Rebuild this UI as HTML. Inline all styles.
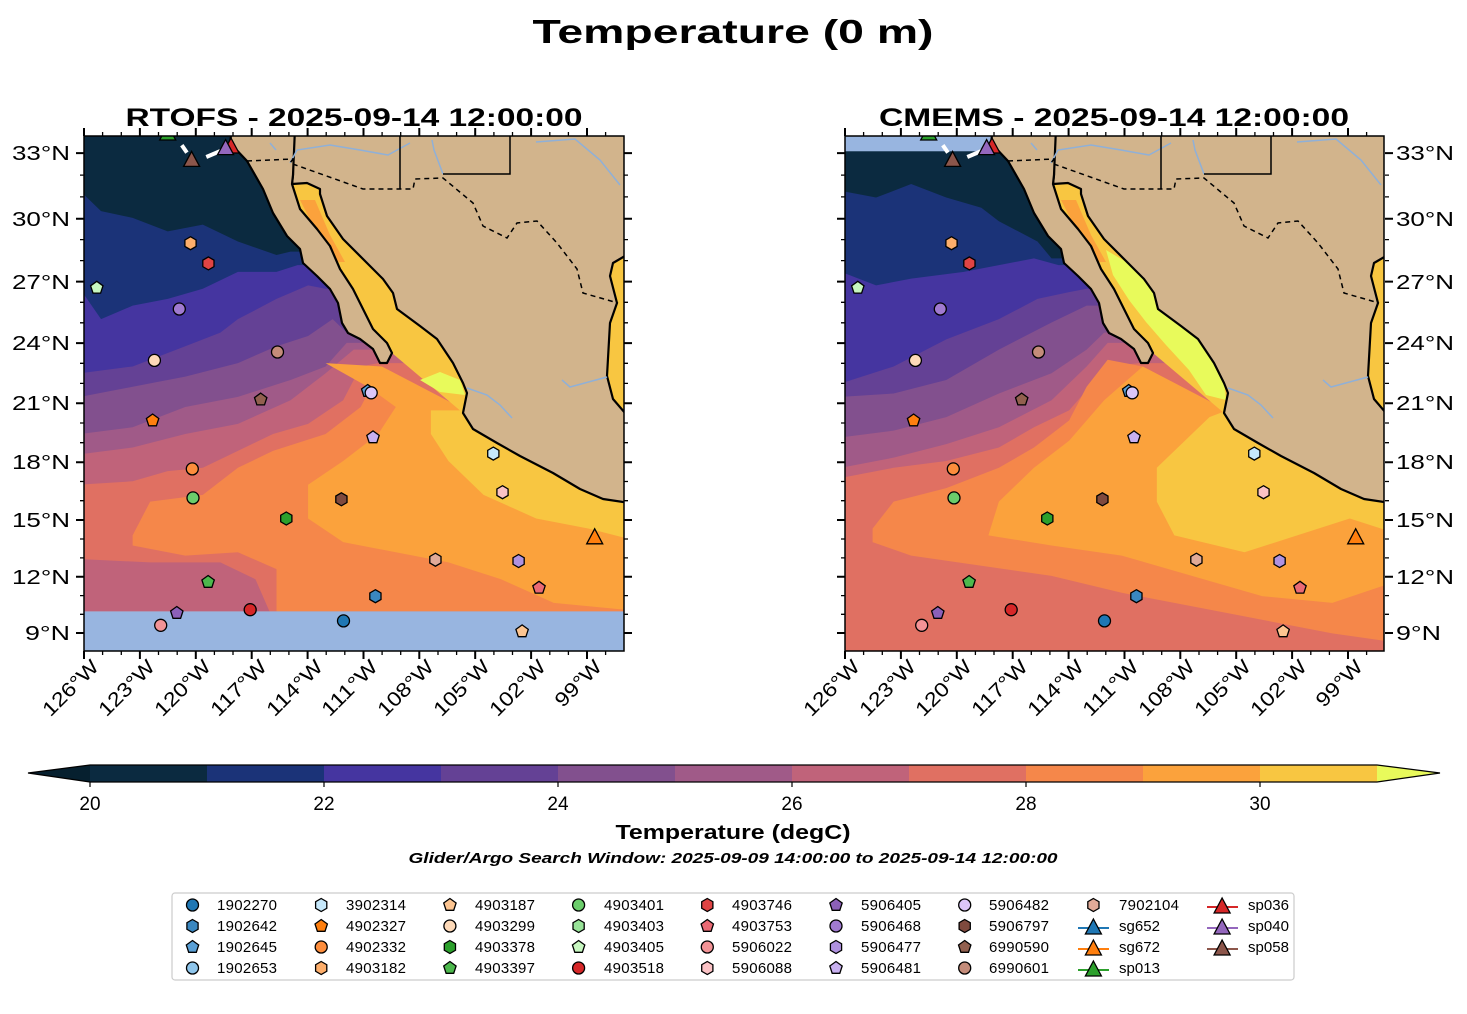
<!DOCTYPE html>
<html><head><meta charset="utf-8"><style>
html,body{margin:0;padding:0;background:#fff;}
svg{display:block;font-family:"Liberation Sans","DejaVu Sans",sans-serif;}
</style></head><body>
<svg width="1467" height="1014" viewBox="0 0 1467 1014" xmlns="http://www.w3.org/2000/svg">
<defs>
<clipPath id="cl"><rect x="84" y="136" width="540" height="515"/></clipPath>
<clipPath id="cr"><rect x="845" y="136" width="539" height="515"/></clipPath>
<circle id="mc" r="6" stroke="#000" stroke-width="1.3"/>
<polygon id="mh" points="0,-6.5 5.6,-3.25 5.6,3.25 0,6.5 -5.6,3.25 -5.6,-3.25" stroke="#000" stroke-width="1.3"/>
<polygon id="mp" points="0,-6.5 6.2,-2 3.8,5.3 -3.8,5.3 -6.2,-2" stroke="#000" stroke-width="1.3"/>
<polygon id="mt" points="0,-9 8,6 -8,6" stroke="#000" stroke-width="1.3"/>
<g id="land">
<polygon fill="#f8c641" points="630,256 625,256 613,263 610,276 617,303 610,323 607,376 613,399 625,413 630,413"/>
<polygon fill="#d2b48c" stroke="#000" stroke-width="2.2" stroke-linejoin="round" points="292,184 307,183 320,189 320,194 327,216 343,239 367,263 383,279 393,293 397,309 420,326 437,339 453,363 463,383 467,393 463,413 473,429 497,443 520,456 553,473 580,489 603,499 630,503 630,413 625,413 613,399 607,376 610,323 617,303 610,276 613,263 625,256 630,256 630,128 293,128 293,175"/>
<polygon fill="#d2b48c" stroke="#000" stroke-width="2.2" stroke-linejoin="round" points="232,128 230,143 247,161 263,189 273,213 287,236 300,249 303,263 317,276 330,289 338,303 342,323 348,333 360,339 373,349 380,363 387,363 392,353 387,343 373,329 363,309 353,289 340,269 330,246 317,229 300,209 292,184 293,175 295,128"/>
<g fill="none" stroke="#8fb0d8" stroke-width="1.5">
<polyline points="290,163 297,150 330,145 360,150 388,155 410,143"/>
<polyline points="432,140 434,150 443,174"/>
<polyline points="536,142 575,139 600,160 620,185"/>
<polyline points="467,388 487,395 500,405 512,418"/>
<polyline points="562,380 570,387 607,377"/>
<polyline points="270,143 276,150"/>
</g>
<polyline fill="none" stroke="#000" stroke-width="1.5" stroke-dasharray="5,4" points="247,161 293,159 290,163 363,189 413,189 415,179 443,178 473,203 483,226 507,238 517,223 537,221 557,243 577,269 583,293 618,303"/>
<polyline fill="none" stroke="#000" stroke-width="1.5" points="400,130 400,189"/>
<polyline fill="none" stroke="#000" stroke-width="1.5" points="443,174 510,174 510,130"/>
</g>
<g id="marks">
<use href="#mh" x="190.5" y="243.2" fill="#fdae6b"/>
<use href="#mh" x="208.4" y="263.4" fill="#e04444"/>
<use href="#mp" x="96.8" y="287.8" fill="#c7f7c0"/>
<use href="#mc" x="179.3" y="309" fill="#a07ad0"/>
<use href="#mc" x="154.4" y="360.4" fill="#fdd9b8"/>
<use href="#mc" x="277.5" y="352" fill="#c48c7a"/>
<use href="#mp" x="260.7" y="399.6" fill="#92604f"/>
<use href="#mp" x="152.6" y="420.5" fill="#ff7f0e"/>
<use href="#mp" x="367.7" y="391" fill="#5aa0d6"/>
<use href="#mc" x="371.2" y="392.8" fill="#dcc6f8"/>
<use href="#mp" x="373" y="437.4" fill="#c8b0f0"/>
<use href="#mh" x="493.3" y="453.6" fill="#c6e8fb"/>
<use href="#mc" x="192.3" y="468.9" fill="#fd8d3c"/>
<use href="#mc" x="193" y="497.9" fill="#6bcd6b"/>
<use href="#mh" x="341.4" y="499.3" fill="#7f4a3e"/>
<use href="#mh" x="286.3" y="518.5" fill="#2ca02c"/>
<use href="#mh" x="502.5" y="492.2" fill="#fbc2c5"/>
<use href="#mt" x="594.7" y="537.8" fill="#ff7f0e"/>
<use href="#mh" x="435.4" y="559.7" fill="#e1aa98"/>
<use href="#mh" x="518.6" y="561" fill="#b092e0"/>
<use href="#mp" x="539" y="587.8" fill="#ea6a74"/>
<use href="#mp" x="208.1" y="582" fill="#4db84d"/>
<use href="#mh" x="375.4" y="596.2" fill="#3a87c0"/>
<use href="#mc" x="250.2" y="609.7" fill="#d62728"/>
<use href="#mp" x="176.8" y="613" fill="#8c60b8"/>
<use href="#mc" x="160.7" y="625.3" fill="#f39396"/>
<use href="#mc" x="343.5" y="620.9" fill="#1f77b4"/>
<use href="#mp" x="522.1" y="631.4" fill="#fdc591"/>
<line x1="181.8" y1="145.2" x2="188.8" y2="155.3" stroke="#fff" stroke-width="4" stroke-dasharray="9,5"/>
<line x1="206.3" y1="157" x2="220.4" y2="151" stroke="#fff" stroke-width="4"/>
<use href="#mt" x="167.7" y="134" fill="#2ca02c"/>
<use href="#mt" x="231" y="147" fill="#d62728"/>
<use href="#mt" x="225.6" y="148.6" fill="#9467bd"/>
<use href="#mt" x="191.6" y="160.4" fill="#8c564b"/>
</g>
</defs>

<!-- Titles -->
<text x="733" y="43" text-anchor="middle" font-weight="bold" font-size="33" textLength="401" lengthAdjust="spacingAndGlyphs">Temperature (0 m)</text>
<text x="354" y="126" text-anchor="middle" font-weight="bold" font-size="25" textLength="457" lengthAdjust="spacingAndGlyphs">RTOFS - 2025-09-14 12:00:00</text>
<text x="1114" y="126" text-anchor="middle" font-weight="bold" font-size="25" textLength="470" lengthAdjust="spacingAndGlyphs">CMEMS - 2025-09-14 12:00:00</text>

<!-- LEFT MAP -->
<g clip-path="url(#cl)">
<g transform="translate(80,130) scale(0.3509,0.3378)">
<rect x="-20" y="-20" width="1650" height="1650" fill="#0b2a40"/>
<polygon fill="#1b3378" points="0,180 60,240 150,260 250,300 350,280 450,330 560,370 600,360 1600,360 1600,1600 0,1600"/>
<polygon fill="#4535a0" points="0,470 60,560 150,520 250,500 350,470 450,420 560,420 620,400 1600,400 1600,1600 0,1600"/>
<polygon fill="#644195" points="0,720 150,700 300,640 400,600 450,560 560,500 650,460 700,470 1600,470 1600,1600 0,1600"/>
<polygon fill="#82508e" points="0,790 150,760 300,730 450,690 560,640 650,610 720,560 760,600 1600,600 1600,1600 0,1600"/>
<polygon fill="#a05a88" points="0,900 150,880 300,820 450,790 600,740 700,700 760,630 1600,630 1600,1600 0,1600"/>
<polygon fill="#c0637a" points="0,960 150,940 300,900 450,870 600,800 700,720 780,650 1600,650 1600,1600 0,1600"/>
<polygon fill="#e07062" points="0,1050 150,1040 250,1010 350,1000 450,950 550,900 650,870 750,800 800,700 850,690 1600,690 1600,1600 0,1600"/>
<polygon fill="#f5874a" points="150,1200 200,1100 350,1080 450,1000 550,950 700,900 800,820 860,700 1100,830 1600,1100 1600,1425 560,1425 560,1300 450,1250 300,1260 150,1230"/>
<polygon fill="#c0637a" points="0,1270 200,1280 400,1280 500,1330 540,1425 0,1425"/>
<polygon fill="#fba23c" points="700,690 860,700 1100,830 1600,1100 1600,1425 1350,1400 1200,1330 1050,1280 900,1250 750,1220 650,1150 650,1050 750,980 850,900 900,820 820,760"/>
<polygon fill="#f8c641" points="1000,830 1100,830 1300,990 1600,1100 1600,1220 1450,1180 1300,1150 1150,1080 1050,980 1000,900"/>
<rect x="-20" y="1425" width="1650" height="200" fill="#98b5e0"/>
</g>
<polygon fill="#f8c641" points="292,184 307,183 320,189 320,194 327,216 343,239 367,263 383,279 393,293 397,309 420,326 437,339 453,363 463,383 467,393 463,413 392,353 387,343 373,329 363,309 353,289 340,269 330,246 317,229 300,209"/>
<polygon fill="#fba23c" points="300,200 315,200 330,235 345,262 335,262 318,235"/>
<polygon fill="#e8fa5b" points="420,380 440,372 460,380 465,395 440,392"/>
<use href="#land"/>
</g>
<g clip-path="url(#cl)"><use href="#marks"/></g>

<!-- RIGHT MAP -->
<g clip-path="url(#cr)">
<g transform="translate(841,130) scale(0.3509,0.3378)">
<rect x="-20" y="-20" width="1650" height="1650" fill="#0b2a40"/>
<polygon fill="#1b3378" points="0,180 100,200 200,160 300,200 400,230 450,270 560,330 600,380 1600,380 1600,1600 0,1600"/>
<polygon fill="#4535a0" points="0,420 100,460 200,440 350,420 450,400 550,380 620,400 1600,400 1600,1600 0,1600"/>
<polygon fill="#644195" points="0,750 150,700 300,620 450,560 560,500 650,480 700,470 1600,470 1600,1600 0,1600"/>
<polygon fill="#82508e" points="0,790 150,780 300,740 450,650 600,570 700,520 1600,520 1600,1600 0,1600"/>
<polygon fill="#a05a88" points="0,910 150,890 300,850 450,780 600,720 700,650 750,600 1600,600 1600,1600 0,1600"/>
<polygon fill="#c0637a" points="0,1000 150,970 300,930 450,880 600,800 700,700 760,630 1600,630 1600,1600 0,1600"/>
<polygon fill="#e07062" points="0,1030 150,1000 300,980 450,940 550,880 650,830 760,700 850,690 1600,690 1600,1600 0,1600"/>
<polygon fill="#f5874a" points="90,1180 150,1100 300,1060 450,1000 550,940 650,860 700,760 760,680 860,700 1100,830 1600,1100 1600,1520 1400,1490 1200,1450 1000,1410 800,1370 600,1320 400,1290 200,1260 90,1220"/>
<polygon fill="#fba23c" points="420,1200 450,1100 550,1000 650,920 750,800 860,700 1100,830 1600,1100 1600,1330 1400,1400 1200,1380 1000,1320 800,1260 600,1230"/>
<polygon fill="#f8c641" points="900,1000 1000,900 1050,850 1100,830 1300,990 1600,1100 1600,1200 1450,1150 1300,1200 1150,1250 950,1200 900,1100"/>
<rect x="-20" y="-20" width="465" height="83" fill="#98b5e0"/>
</g>
<g transform="translate(761,0)">
<polygon fill="#f8c641" points="292,184 307,183 320,189 320,194 327,216 343,239 367,263 383,279 393,293 397,309 420,326 437,339 453,363 463,383 467,393 463,413 392,353 387,343 373,329 363,309 353,289 340,269 330,246 317,229 300,209"/>
<polygon fill="#fba23c" points="300,200 315,200 330,235 345,262 335,262 318,235"/>
<polygon fill="#e8fa5b" points="345,250 367,263 383,279 393,293 397,309 420,326 437,339 453,363 463,383 465,400 445,395 428,370 405,345 385,322 368,300 352,275"/>
<use href="#land"/>
</g>
</g>
<g clip-path="url(#cr)"><use href="#marks" x="761"/></g>

<!-- frames -->
<rect x="84" y="136" width="540" height="515" fill="none" stroke="#000" stroke-width="1.5"/>
<rect x="845" y="136" width="539" height="515" fill="none" stroke="#000" stroke-width="1.5"/>

<!-- x ticks -->
<g id="xt" stroke="#000">
<path stroke-width="2" d="M84,651v8M139.9,651v8M195.8,651v8M251.7,651v8M307.6,651v8M363.5,651v8M419.3,651v8M475.2,651v8M531.1,651v8M587,651v8M84,136v-8M139.9,136v-8M195.8,136v-8M251.7,136v-8M307.6,136v-8M363.5,136v-8M419.3,136v-8M475.2,136v-8M531.1,136v-8M587,136v-8"/>
<path stroke-width="1.3" d="M102.6,651v4M121.3,651v4M158.5,651v4M177.2,651v4M214.4,651v4M233,651v4M270.3,651v4M288.9,651v4M326.2,651v4M344.8,651v4M382.1,651v4M400.7,651v4M438,651v4M456.6,651v4M493.9,651v4M512.5,651v4M549.8,651v4M568.4,651v4M605.6,651v4M102.6,136v-4M121.3,136v-4M158.5,136v-4M177.2,136v-4M214.4,136v-4M233,136v-4M270.3,136v-4M288.9,136v-4M326.2,136v-4M344.8,136v-4M382.1,136v-4M400.7,136v-4M438,136v-4M456.6,136v-4M493.9,136v-4M512.5,136v-4M549.8,136v-4M568.4,136v-4M605.6,136v-4"/>
</g>
<use href="#xt" x="761"/>
<!-- y ticks -->
<g id="yt" stroke="#000">
<path stroke-width="2" d="M84,633h-8M84,576.8h-8M84,520h-8M84,462.2h-8M84,403.3h-8M84,343.1h-8M84,281.6h-8M84,218.8h-8M84,153.1h-8M624,633h8M624,576.8h8M624,520h8M624,462.2h8M624,403.3h8M624,343.1h8M624,281.6h8M624,218.8h8M624,153.1h8"/>
<path stroke-width="1.3" d="M84,614.3h-4M84,595.6h-4M84,557.9h-4M84,539h-4M84,500.7h-4M84,481.5h-4M84,442.7h-4M84,423h-4M84,383.4h-4M84,363.3h-4M84,322.8h-4M84,302.3h-4M84,260.6h-4M84,239.6h-4M84,196.9h-4M84,175.1h-4M624,614.3h4M624,595.6h4M624,557.9h4M624,539h4M624,500.7h4M624,481.5h4M624,442.7h4M624,423h4M624,383.4h4M624,363.3h4M624,322.8h4M624,302.3h4M624,260.6h4M624,239.6h4M624,196.9h4M624,175.1h4"/>
</g>
<use href="#yt" x="761"/>

<!-- y labels -->
<g font-size="20" text-anchor="end">
<text x="70" y="160" textLength="58" lengthAdjust="spacingAndGlyphs">33°N</text><text x="70" y="226" textLength="58" lengthAdjust="spacingAndGlyphs">30°N</text><text x="70" y="289" textLength="58" lengthAdjust="spacingAndGlyphs">27°N</text><text x="70" y="350" textLength="58" lengthAdjust="spacingAndGlyphs">24°N</text><text x="70" y="410" textLength="58" lengthAdjust="spacingAndGlyphs">21°N</text><text x="70" y="469" textLength="58" lengthAdjust="spacingAndGlyphs">18°N</text><text x="70" y="527" textLength="58" lengthAdjust="spacingAndGlyphs">15°N</text><text x="70" y="584" textLength="58" lengthAdjust="spacingAndGlyphs">12°N</text><text x="70" y="640" textLength="45" lengthAdjust="spacingAndGlyphs">9°N</text>
</g>
<g font-size="20" text-anchor="start">
<text x="1396" y="160" textLength="58" lengthAdjust="spacingAndGlyphs">33°N</text><text x="1396" y="226" textLength="58" lengthAdjust="spacingAndGlyphs">30°N</text><text x="1396" y="289" textLength="58" lengthAdjust="spacingAndGlyphs">27°N</text><text x="1396" y="350" textLength="58" lengthAdjust="spacingAndGlyphs">24°N</text><text x="1396" y="410" textLength="58" lengthAdjust="spacingAndGlyphs">21°N</text><text x="1396" y="469" textLength="58" lengthAdjust="spacingAndGlyphs">18°N</text><text x="1396" y="527" textLength="58" lengthAdjust="spacingAndGlyphs">15°N</text><text x="1396" y="584" textLength="58" lengthAdjust="spacingAndGlyphs">12°N</text><text x="1396" y="640" textLength="45" lengthAdjust="spacingAndGlyphs">9°N</text>
</g>
<!-- x labels -->
<g id="xl" font-size="20" text-anchor="end">
<text transform="translate(100,668) rotate(-45)" textLength="70" lengthAdjust="spacingAndGlyphs">126°W</text>
<text transform="translate(156,668) rotate(-45)" textLength="70" lengthAdjust="spacingAndGlyphs">123°W</text>
<text transform="translate(212,668) rotate(-45)" textLength="70" lengthAdjust="spacingAndGlyphs">120°W</text>
<text transform="translate(268,668) rotate(-45)" textLength="70" lengthAdjust="spacingAndGlyphs">117°W</text>
<text transform="translate(324,668) rotate(-45)" textLength="70" lengthAdjust="spacingAndGlyphs">114°W</text>
<text transform="translate(379,668) rotate(-45)" textLength="70" lengthAdjust="spacingAndGlyphs">111°W</text>
<text transform="translate(435,668) rotate(-45)" textLength="70" lengthAdjust="spacingAndGlyphs">108°W</text>
<text transform="translate(491,668) rotate(-45)" textLength="70" lengthAdjust="spacingAndGlyphs">105°W</text>
<text transform="translate(547,668) rotate(-45)" textLength="70" lengthAdjust="spacingAndGlyphs">102°W</text>
<text transform="translate(603,668) rotate(-45)" textLength="57" lengthAdjust="spacingAndGlyphs">99°W</text>
</g>
<use href="#xl" x="761"/>

<!-- colorbar -->
<g stroke="none">
<polygon points="28,773 90,765 90,782" fill="#06202f"/>
<rect x="90" y="765" width="117.1" height="17" fill="#0b2a40"/>
<rect x="207" y="765" width="117.1" height="17" fill="#1b3378"/>
<rect x="324" y="765" width="117.1" height="17" fill="#4535a0"/>
<rect x="441" y="765" width="117.1" height="17" fill="#644195"/>
<rect x="558" y="765" width="117.1" height="17" fill="#82508e"/>
<rect x="675" y="765" width="117.1" height="17" fill="#a05a88"/>
<rect x="792" y="765" width="117.1" height="17" fill="#c0637a"/>
<rect x="909" y="765" width="117.1" height="17" fill="#e07062"/>
<rect x="1026" y="765" width="117.1" height="17" fill="#f5874a"/>
<rect x="1143" y="765" width="117.1" height="17" fill="#fba23c"/>
<rect x="1260" y="765" width="117" height="17" fill="#f8c641"/>
<polygon points="1377,765 1440,773 1377,782" fill="#e8fa5b"/>
</g>
<polygon points="28,773 90,765 1377,765 1440,773 1377,782 90,782" fill="none" stroke="#000" stroke-width="1.2"/>
<g stroke="#000" stroke-width="1.2"><path d="M90,782v5M324,782v5M558,782v5M792,782v5M1026,782v5M1260,782v5"/></g>
<g font-size="19" text-anchor="middle">
<text x="90" y="810">20</text><text x="324" y="810">22</text><text x="558" y="810">24</text><text x="792" y="810">26</text><text x="1026" y="810">28</text><text x="1260" y="810">30</text>
</g>
<text x="733" y="839" text-anchor="middle" font-weight="bold" font-size="20" textLength="235" lengthAdjust="spacingAndGlyphs">Temperature (degC)</text>
<text x="733" y="863" text-anchor="middle" font-weight="bold" font-style="italic" font-size="15" textLength="649" lengthAdjust="spacingAndGlyphs">Glider/Argo Search Window: 2025-09-09 14:00:00 to 2025-09-14 12:00:00</text>

<!-- legend -->
<rect x="172" y="893" width="1122" height="87" rx="3" fill="#fff" stroke="#cccccc" stroke-width="1.2"/>
<g font-size="15">
<use href="#mc" x="192.5" y="905" fill="#1f77b4"/><text x="217" y="910" textLength="60">1902270</text>
<use href="#mh" x="192.5" y="926" fill="#3a87c0"/><text x="217" y="931" textLength="60">1902642</text>
<use href="#mp" x="192.5" y="947" fill="#5aa0d6"/><text x="217" y="952" textLength="60">1902645</text>
<use href="#mc" x="192.5" y="968" fill="#8fc6ec"/><text x="217" y="973" textLength="60">1902653</text>

<use href="#mh" x="321.2" y="905" fill="#c6e8fb"/><text x="346" y="910" textLength="60">3902314</text>
<use href="#mp" x="321.2" y="926" fill="#ff7f0e"/><text x="346" y="931" textLength="60">4902327</text>
<use href="#mc" x="321.2" y="947" fill="#fd8d3c"/><text x="346" y="952" textLength="60">4902332</text>
<use href="#mh" x="321.2" y="968" fill="#fdae6b"/><text x="346" y="973" textLength="60">4903182</text>

<use href="#mp" x="449.9" y="905" fill="#fdc591"/><text x="475" y="910" textLength="60">4903187</text>
<use href="#mc" x="449.9" y="926" fill="#fdd9b8"/><text x="475" y="931" textLength="60">4903299</text>
<use href="#mh" x="449.9" y="947" fill="#2ca02c"/><text x="475" y="952" textLength="60">4903378</text>
<use href="#mp" x="449.9" y="968" fill="#4db84d"/><text x="475" y="973" textLength="60">4903397</text>

<use href="#mc" x="578.6" y="905" fill="#6bcd6b"/><text x="604" y="910" textLength="60">4903401</text>
<use href="#mh" x="578.6" y="926" fill="#98e398"/><text x="604" y="931" textLength="60">4903403</text>
<use href="#mp" x="578.6" y="947" fill="#c7f7c0"/><text x="604" y="952" textLength="60">4903405</text>
<use href="#mc" x="578.6" y="968" fill="#d62728"/><text x="604" y="973" textLength="60">4903518</text>

<use href="#mh" x="707.3" y="905" fill="#e04444"/><text x="732" y="910" textLength="60">4903746</text>
<use href="#mp" x="707.3" y="926" fill="#ea6a74"/><text x="732" y="931" textLength="60">4903753</text>
<use href="#mc" x="707.3" y="947" fill="#f39396"/><text x="732" y="952" textLength="60">5906022</text>
<use href="#mh" x="707.3" y="968" fill="#fbc2c5"/><text x="732" y="973" textLength="60">5906088</text>

<use href="#mp" x="836" y="905" fill="#8c60b8"/><text x="861" y="910" textLength="60">5906405</text>
<use href="#mc" x="836" y="926" fill="#a07ad0"/><text x="861" y="931" textLength="60">5906468</text>
<use href="#mh" x="836" y="947" fill="#b092e0"/><text x="861" y="952" textLength="60">5906477</text>
<use href="#mp" x="836" y="968" fill="#c8b0f0"/><text x="861" y="973" textLength="60">5906481</text>

<use href="#mc" x="964.7" y="905" fill="#dcc6f8"/><text x="989" y="910" textLength="60">5906482</text>
<use href="#mh" x="964.7" y="926" fill="#7f4a3e"/><text x="989" y="931" textLength="60">5906797</text>
<use href="#mp" x="964.7" y="947" fill="#92604f"/><text x="989" y="952" textLength="60">6990590</text>
<use href="#mc" x="964.7" y="968" fill="#c48c7a"/><text x="989" y="973" textLength="60">6990601</text>

<use href="#mh" x="1093.4" y="905" fill="#e1aa98"/><text x="1119" y="910" textLength="60">7902104</text>
<line x1="1078" y1="928" x2="1109" y2="928" stroke="#1f77b4" stroke-width="2"/><use href="#mt" x="1093.4" y="928" fill="#1f77b4"/><text x="1119" y="931" textLength="41">sg652</text>
<line x1="1078" y1="949" x2="1109" y2="949" stroke="#ff7f0e" stroke-width="2"/><use href="#mt" x="1093.4" y="949" fill="#ff7f0e"/><text x="1119" y="952" textLength="41">sg672</text>
<line x1="1078" y1="970" x2="1109" y2="970" stroke="#2ca02c" stroke-width="2"/><use href="#mt" x="1093.4" y="970" fill="#2ca02c"/><text x="1119" y="973" textLength="41">sp013</text>

<line x1="1207" y1="907" x2="1238" y2="907" stroke="#d62728" stroke-width="2"/><use href="#mt" x="1222.1" y="907" fill="#d62728"/><text x="1248" y="910" textLength="41">sp036</text>
<line x1="1207" y1="928" x2="1238" y2="928" stroke="#9467bd" stroke-width="2"/><use href="#mt" x="1222.1" y="928" fill="#9467bd"/><text x="1248" y="931" textLength="41">sp040</text>
<line x1="1207" y1="949" x2="1238" y2="949" stroke="#8c564b" stroke-width="2"/><use href="#mt" x="1222.1" y="949" fill="#8c564b"/><text x="1248" y="952" textLength="41">sp058</text>
</g>
</svg>
</body></html>
